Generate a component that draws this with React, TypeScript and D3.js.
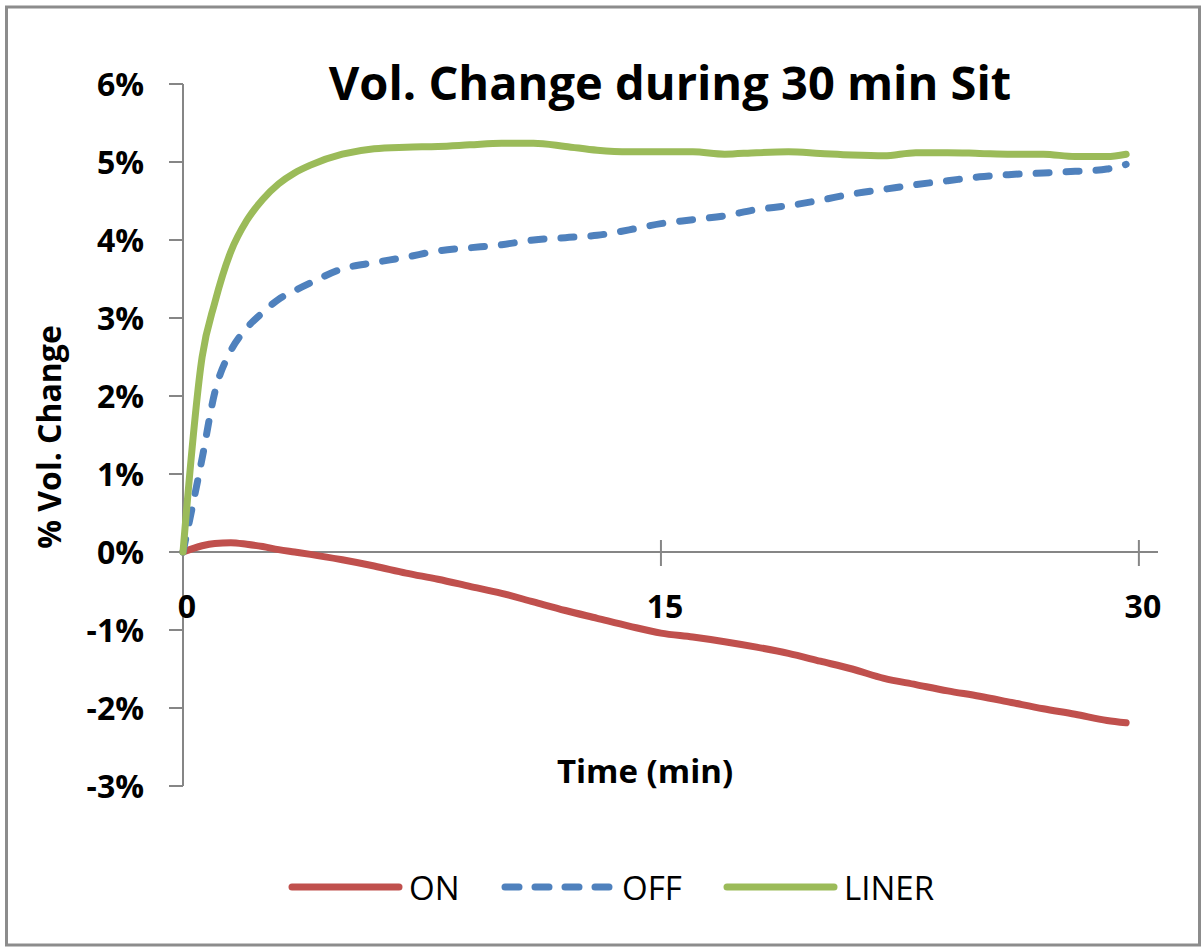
import { useEffect } from "react";
import * as d3 from "d3";

// minutes
const times = [0, 0.6, 1, 1.5, 2, 2.5, 3, 3.5, 4, 5, 6, 7, 8, 9, 10, 11, 12, 13, 14, 15, 16, 17, 18, 19, 20, 21, 22, 23, 24, 25, 26, 27, 28, 29, 29.6];

// % volume change
const onValues = [0, 0.08, 0.11, 0.12, 0.1, 0.07, 0.03, 0, -0.03, -0.1, -0.18, -0.27, -0.35, -0.44, -0.53, -0.64, -0.75, -0.85, -0.95, -1.04, -1.09, -1.15, -1.22, -1.3, -1.4, -1.5, -1.62, -1.7, -1.78, -1.85, -1.93, -2.01, -2.08, -2.16, -2.19];
const offValues = [0, 1.2, 2.05, 2.58, 2.87, 3.07, 3.24, 3.35, 3.45, 3.63, 3.71, 3.78, 3.86, 3.9, 3.94, 4.0, 4.03, 4.06, 4.13, 4.21, 4.26, 4.31, 4.39, 4.44, 4.51, 4.59, 4.65, 4.71, 4.76, 4.81, 4.84, 4.86, 4.88, 4.91, 4.97];
const linerValues = [0, 2.5, 3.2, 3.85, 4.25, 4.52, 4.72, 4.86, 4.96, 5.1, 5.17, 5.19, 5.2, 5.22, 5.24, 5.24, 5.2, 5.15, 5.13, 5.13, 5.13, 5.1, 5.12, 5.13, 5.11, 5.09, 5.08, 5.12, 5.12, 5.11, 5.1, 5.1, 5.07, 5.07, 5.1];

const yTicks = [6, 5, 4, 3, 2, 1, 0, -1, -2, -3];
const xTicks = [0, 15, 30];

const seriesNames = ["ON", "OFF", "LINER"];
const seriesColors = ["#C0504D", "#4F81BD", "#9BBB59"];

const W = 1203;
const H = 947;
const axisColor = "#868686";
const font = "'Open Sans', 'DejaVu Sans', sans-serif";

export default function App() {
  useEffect(() => {
    document.body.style.margin = "0";
  }, []);

  const x = d3.scaleLinear().domain([0, 30.6]).range([183, 1158]);
  const y = d3.scaleLinear().domain([-3, 6]).range([786, 84]);

  const all = [onValues, offValues, linerValues];
  const line = d3
    .line<number>()
    .x((_, i) => x(times[i]))
    .y(d => y(d))
    .curve(d3.curveMonotoneX);

  // legend entries: line start, text start
  const legendX = [292, 505, 727];
  const legendY = 887;

  return (
    <svg width={W} height={H} style={{ display: "block" }}>
      <rect x={0} y={0} width={W} height={H} fill="#fff" />
      <rect x={6.5} y={7} width={1193} height={938} fill="none" stroke="#8c8c8c" strokeWidth={3} />

      <text x={670} y={100} textAnchor="middle" fontFamily={font} fontWeight="bold" fontSize={47} fill="#000">
        Vol. Change during 30 min Sit
      </text>

      {/* y axis */}
      <line x1={x(0)} x2={x(0)} y1={y(6)} y2={y(-3)} stroke={axisColor} strokeWidth={2} />
      {yTicks.map(t => (
        <g key={t}>
          <line x1={x(0) - 14} x2={x(0)} y1={y(t)} y2={y(t)} stroke={axisColor} strokeWidth={2} />
          <text x={144} y={y(t) + 12} textAnchor="end" fontFamily={font} fontWeight="bold" fontSize={32} fill="#000">
            {t}%
          </text>
        </g>
      ))}

      {/* x axis */}
      <line x1={x(0)} x2={x(30.6)} y1={y(0)} y2={y(0)} stroke={axisColor} strokeWidth={2} />
      {xTicks.map(t => (
        <g key={t}>
          <line x1={x(t)} x2={x(t)} y1={y(0) - 12} y2={y(0) + 14} stroke={axisColor} strokeWidth={2} />
          <text x={x(t) + 4} y={y(0) + 66} textAnchor="middle" fontFamily={font} fontWeight="bold" fontSize={32} fill="#000">
            {t}
          </text>
        </g>
      ))}

      <text x={645} y={783} textAnchor="middle" fontFamily={font} fontWeight="bold" fontSize={33} fill="#000">
        Time (min)
      </text>
      <text
        transform="translate(61,437) rotate(-90)"
        textAnchor="middle"
        fontFamily={font}
        fontWeight="bold"
        fontSize={32}
        fill="#000"
      >
        % Vol. Change
      </text>

      {/* series */}
      {all.map((vals, i) => (
        <path
          key={seriesNames[i]}
          d={line(vals) || ""}
          fill="none"
          stroke={seriesColors[i]}
          strokeWidth={7}
          strokeLinecap="round"
          strokeLinejoin="round"
          strokeDasharray={i === 1 ? "13 17" : undefined}
        />
      ))}

      {/* legend */}
      {seriesNames.map((name, i) => (
        <g key={name}>
          <line
            x1={legendX[i]}
            x2={legendX[i] + 107}
            y1={legendY}
            y2={legendY}
            stroke={seriesColors[i]}
            strokeWidth={7}
            strokeLinecap="round"
            strokeDasharray={i === 1 ? "14 16" : undefined}
          />
          <text x={legendX[i] + 117} y={legendY + 13} fontFamily={font} fontSize={33} fill="#000">
            {name}
          </text>
        </g>
      ))}
    </svg>
  );
}
